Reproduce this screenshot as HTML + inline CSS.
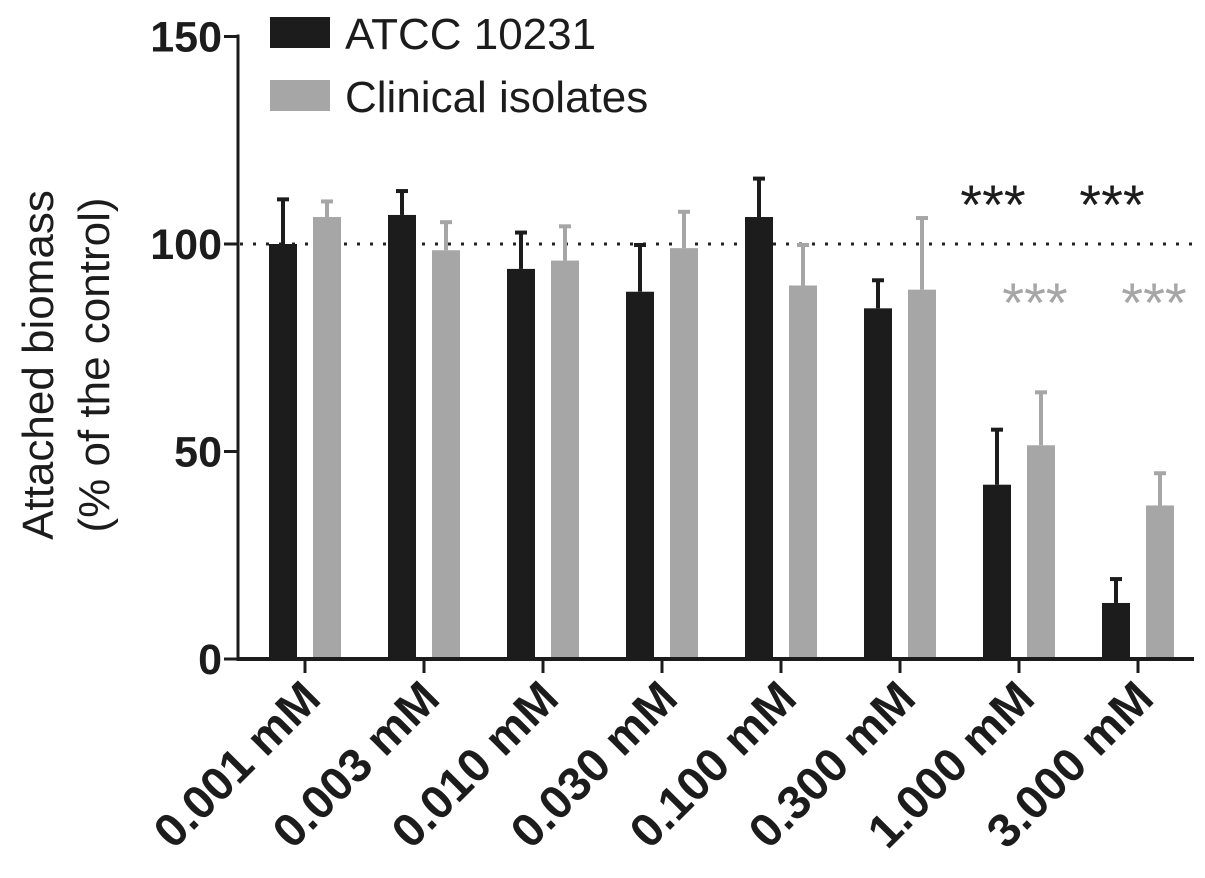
<!DOCTYPE html>
<html><head><meta charset="utf-8"><style>
body{margin:0;background:#fff}
svg{display:block;font-family:"Liberation Sans",Arial,sans-serif}
</style></head><body>
<svg id="chart" width="1205" height="878" viewBox="0 0 1205 878"></svg>
<script>
const categories=["0.001 mM","0.003 mM","0.010 mM","0.030 mM","0.100 mM","0.300 mM","1.000 mM","3.000 mM"];
const atccValues=[100,107,94,88.5,106.5,84.5,42,13.5];
const atccErrors=[111,113,103,100,116,91.5,55.5,19.5];
const clinicalValues=[106.5,98.5,96,99,90,89,51.5,37];
const clinicalErrors=[110.5,105.5,104.5,108,100,106.5,64.5,45];
const yTicks=[0,50,100,150];
const sigAtcc=["","","","","","","***","***"];
const sigClinical=["","","","","","","***","***"];

const svg=document.getElementById('chart');
const NS='http://www.w3.org/2000/svg';
const y0=659, pxPerUnit=4.15, x0=305, step=119;
const y=v=>y0-v*pxPerUnit;
const xc=i=>x0+i*step;
function mk(tag,attrs,parent){const e=document.createElementNS(NS,tag);for(const k in attrs)e.setAttribute(k,attrs[k]);(parent||svg).appendChild(e);return e;}

let dl=mk('line',{x1:240,x2:1192,y1:y(100),y2:y(100),stroke:'#222','stroke-width':3,'stroke-dasharray':'3 10'});



function bar(i,v,err,color,dx,name){
  const g=mk('g',{});
  
  
  const bx=xc(i)+dx, w=28, cx=bx+w/2;
  mk('line',{x1:cx,x2:cx,y1:y(err),y2:y(v),stroke:color,'stroke-width':4},g);
  mk('line',{x1:cx-6,x2:cx+6,y1:y(err)+1,y2:y(err)+1,stroke:color,'stroke-width':4},g);
  mk('rect',{x:bx,y:y(v),width:w,height:y0-y(v),fill:color},g);
}
categories.forEach((c,i)=>{
  bar(i,atccValues[i],atccErrors[i],'#1c1c1c',-36,'bar-atcc-'+(i+1));
  bar(i,clinicalValues[i],clinicalErrors[i],'#a6a6a6',8,'bar-clinical-'+(i+1));
  const t=mk('line',{x1:xc(i),x2:xc(i),y1:y0,y2:y0+14,stroke:'#1c1c1c','stroke-width':3});
  
  
  const lx=xc(i)+18, ly=y0+42;
  const lab=mk('text',{x:lx,y:ly,'text-anchor':'end','font-size':47,'font-weight':'bold',fill:'#1c1c1c',transform:`rotate(-45 ${lx} ${ly})`});
  lab.textContent=c;
  
  
  if(sigAtcc[i]){const s=mk('text',{x:xc(i)-26,y:224,'text-anchor':'middle','font-size':56,fill:'#1c1c1c'});s.textContent=sigAtcc[i];
    
    }
  if(sigClinical[i]){const s=mk('text',{x:xc(i)+16,y:322,'text-anchor':'middle','font-size':56,fill:'#a6a6a6'});s.textContent=sigClinical[i];
    
    }
});

let ya=mk('line',{x1:238,x2:238,y1:y(150)-2,y2:y0+2,stroke:'#1c1c1c','stroke-width':3});


let xa=mk('line',{x1:237,x2:1194,y1:y0,y2:y0,stroke:'#1c1c1c','stroke-width':4});


yTicks.forEach(v=>{
  const t=mk('line',{x1:224,x2:238,y1:y(v),y2:y(v),stroke:'#1c1c1c','stroke-width':3});
  
  
  const l=mk('text',{x:222,y:y(v)+15,'text-anchor':'end','font-size':43,'font-weight':'bold',fill:'#1c1c1c'});
  l.textContent=v;
  
  
});
const yt=mk('text',{x:0,y:0,'text-anchor':'middle','font-size':44,fill:'#1c1c1c',transform:'translate(53 365) rotate(-90)'});


const t1=mk('tspan',{x:0,dy:0},yt);t1.textContent='Attached biomass';
const t2=mk('tspan',{x:0,dy:56},yt);t2.textContent='(% of the control)';

[['#1c1c1c','ATCC 10231',17,'legend-atcc'],['#a6a6a6','Clinical isolates',80,'legend-clinical']].forEach(([c,txt,top,n])=>{
  const g=mk('g',{});
  
  
  mk('rect',{x:270,y:top,width:60,height:31,fill:c},g);
  const t=mk('text',{x:345,y:top+32,'font-size':44,fill:'#1c1c1c'},g);t.textContent=txt;
});
</script>
</body></html>
